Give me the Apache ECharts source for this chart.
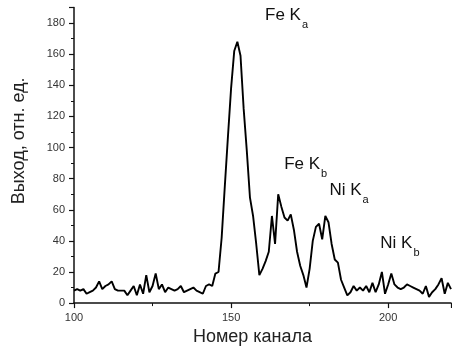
<!DOCTYPE html>
<html><head><meta charset="utf-8">
<script src="https://cdn.jsdelivr.net/npm/echarts@6/dist/echarts.min.js"></script>
<style>html,body{margin:0;padding:0;background:#fff;overflow:hidden}#c{width:452px;height:351px}</style>
</head><body><div id="c"></div>
<script>
var channels = [];
for (var c = 100; c <= 220; c++) channels.push(c);
var counts = [
 8, 9, 8, 9, 6, 7, 8,10,14, 9,   // 100-109
11,12,14, 9, 8, 8, 8, 5, 8,11,   // 110-119
 5,12, 6,18, 7,11,19, 9,12, 7,   // 120-129
10, 9, 8, 9,11, 7, 8, 9,10, 8,   // 130-139
 7, 6,11,12,11,19,20,42,75,107,  // 140-149
138,162,168,159,125,98,68,56,38,18, // 150-159
22,27,33,56,38,70,62,55,53,57,   // 160-169
47,33,24,18,10,22,40,49,51,41,   // 170-179
56,52,38,28,26,15,10, 5, 7,11,   // 180-189
 8,10, 8,11, 7,13, 7,12,20, 6,   // 190-199
12,19,12,10, 9,10,12,11,10, 9,   // 200-209
 8, 6,11, 4, 7, 9,12,16, 6,13,   // 210-219
 9                               // 220
];
var peakNames = ['Fe K', 'Fe K', 'Ni K', 'Ni K'];
var peakSubs  = ['a', 'b', 'a', 'b'];
var peakLabelX = [160.8, 166.9, 181.3, 197.5];
var peakLabelY = [188.4, 92.4, 75.8, 41.6];
var xTitle = 'Номер канала';
var yTitle = 'Выход, отн. ед.';

var chart = echarts.init(document.getElementById('c'), null, {renderer: 'canvas'});
var font = 'Liberation Sans, Arial, sans-serif';
function axisBase(margin) {
  return {
    axisLine: {show: true, lineStyle: {color: '#111', width: 1.5}},
    axisTick: {show: true, length: 5, lineStyle: {color: '#111', width: 1.2}},
    minorTick: {show: true, splitNumber: 2, length: 3, lineStyle: {color: '#111', width: 1}},
    splitLine: {show: false},
    axisLabel: {color: '#333', fontSize: 11, fontFamily: font, margin: margin, showMaxLabel: false}
  };
}
var data = channels.map(function (ch, i) { return [ch, counts[i]]; });
chart.setOption({
  animation: false,
  grid: {left: 74, right: 1, top: 7.5, bottom: 39.5},
  xAxis: Object.assign(axisBase(9), {
    type: 'value', min: 100, max: 220, interval: 50,
    name: xTitle, nameLocation: 'middle', nameGap: 20,
    nameTextStyle: {fontSize: 18, color: '#222', fontFamily: font, padding: [0, 20, 0, 0]}
  }),
  yAxis: Object.assign(axisBase(9), {
    type: 'value', min: 0, max: 190, interval: 20,
    name: yTitle, nameLocation: 'middle', nameGap: 46,
    nameTextStyle: {fontSize: 18, color: '#222', fontFamily: font, padding: [0, 0, 0, 29]}
  }),
  series: [{
    type: 'line', data: data, showSymbol: false, symbol: 'none',
    lineStyle: {color: '#000', width: 1.9}
  }]
});
var g = peakNames.map(function (n, i) {
  var p = chart.convertToPixel({gridIndex: 0}, [peakLabelX[i], peakLabelY[i]]);
  return {
    type: 'text', x: p[0], y: p[1],
    style: {
      text: '{m|' + n + '}{s|' + peakSubs[i] + '}',
      align: 'left', verticalAlign: 'top',
      rich: {
        m: {fontSize: 17, fontFamily: font, fill: '#111', lineHeight: 17, padding: [0, 0, 7, 0]},
        s: {fontSize: 11, fontFamily: font, fill: '#111', lineHeight: 11, padding: [13, 0, 0, 1]}
      }
    }
  };
});
chart.setOption({graphic: g});
</script>
</body></html>
